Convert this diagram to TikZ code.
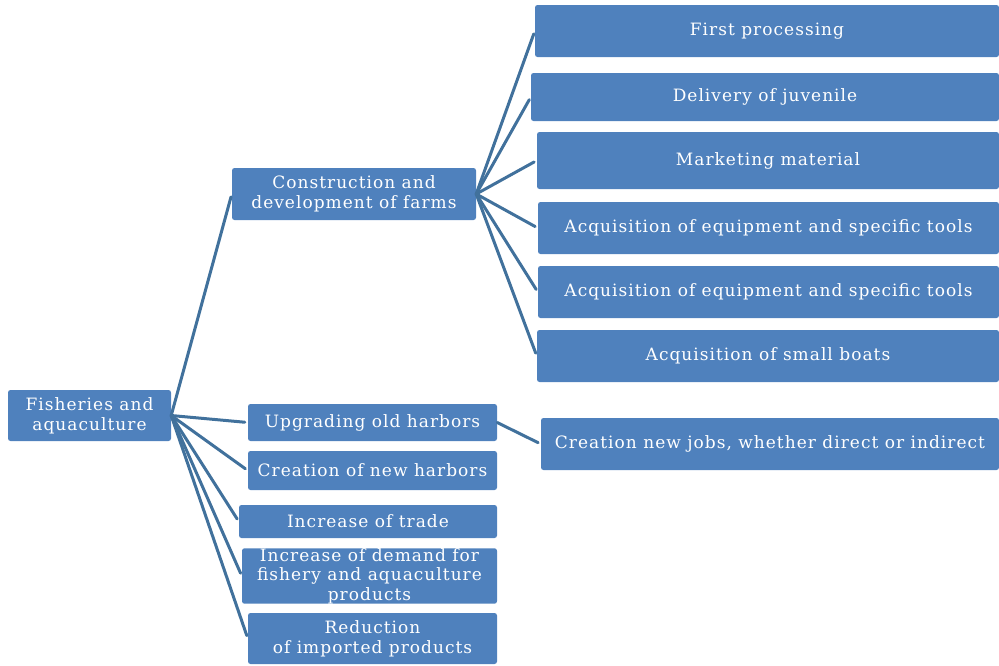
\documentclass[tikz,border=0pt]{standalone}
\usepackage{fontspec}
\setmainfont{DejaVu Serif}[LetterSpace=6]
\usepackage{xcolor}
\usepackage{tikz}
\usetikzlibrary{calc}
\usetikzlibrary{positioning}

\definecolor{boxblue}{HTML}{4F81BD}
\definecolor{linkblue}{HTML}{41719C}

\tikzset{
	block/.style={fill=boxblue,text=white,rounded corners=2.5pt,align=center,inner sep=0pt,font=\fontsize{17}{20}\selectfont},
	link/.style={draw=linkblue,line width=3pt,line cap=round,shorten >=3pt}
}

\begin{document}
\begin{tikzpicture}[x=1pt,y=-1pt]
	\useasboundingbox (0,0) rectangle (999,665);
	
	\node[block,minimum width=163,minimum height=51] (root) at (89.5,415.5) {Fisheries and\\aquaculture};
	
	\node[block,minimum width=244,minimum height=52] (farms) at (354,194) {Construction and\\development of farms};
	\node[block,minimum width=249,minimum height=37] (upgrade) at (372.5,422.5) {Upgrading old harbors};
	\node[block,minimum width=249,minimum height=39] (newharb) at (372.5,470.5) {Creation of new harbors};
	\node[block,minimum width=258,minimum height=33] (trade) at (368,521.5) {Increase of trade};
	\node[block,minimum width=255,minimum height=52,font=\fontsize{17}{19.5}\selectfont] (demand) at (369.5,576) {Increase of demand for\\fishery and aquaculture\\products};
	\node[block,minimum width=249,minimum height=51] (reduct) at (372.5,638.5) {Reduction\\of imported products};
	
	\node[block,minimum width=464,minimum height=52] (firstproc) at (767,31) {First processing};
	\node[block,minimum width=468,minimum height=48] (juvenile) at (765,97) {Delivery of juvenile};
	\node[block,minimum width=462,minimum height=57] (marketing) at (768,160.5) {Marketing material};
	\node[block,minimum width=461,minimum height=52] (equipa) at (768.5,228) {Acquisition of equipment and specific tools};
	\node[block,minimum width=461,minimum height=52] (equipb) at (768.5,292) {Acquisition of equipment and specific tools};
	\node[block,minimum width=462,minimum height=52] (boats) at (768,356) {Acquisition of small boats};
	
	\node[block,minimum width=458,minimum height=52] (jobs) at (770,444) {Creation new jobs, whether direct or indirect};
	
	\foreach \n in {farms,upgrade,newharb,trade,demand,reduct}
		\draw[link] (root.east) -- (\n.west);
	\foreach \n in {firstproc,juvenile,marketing,equipa,equipb,boats}
		\draw[link] (farms.east) -- (\n.west);
	\draw[link] (upgrade.east) -- (jobs.west);
	
\end{tikzpicture}
\end{document}
